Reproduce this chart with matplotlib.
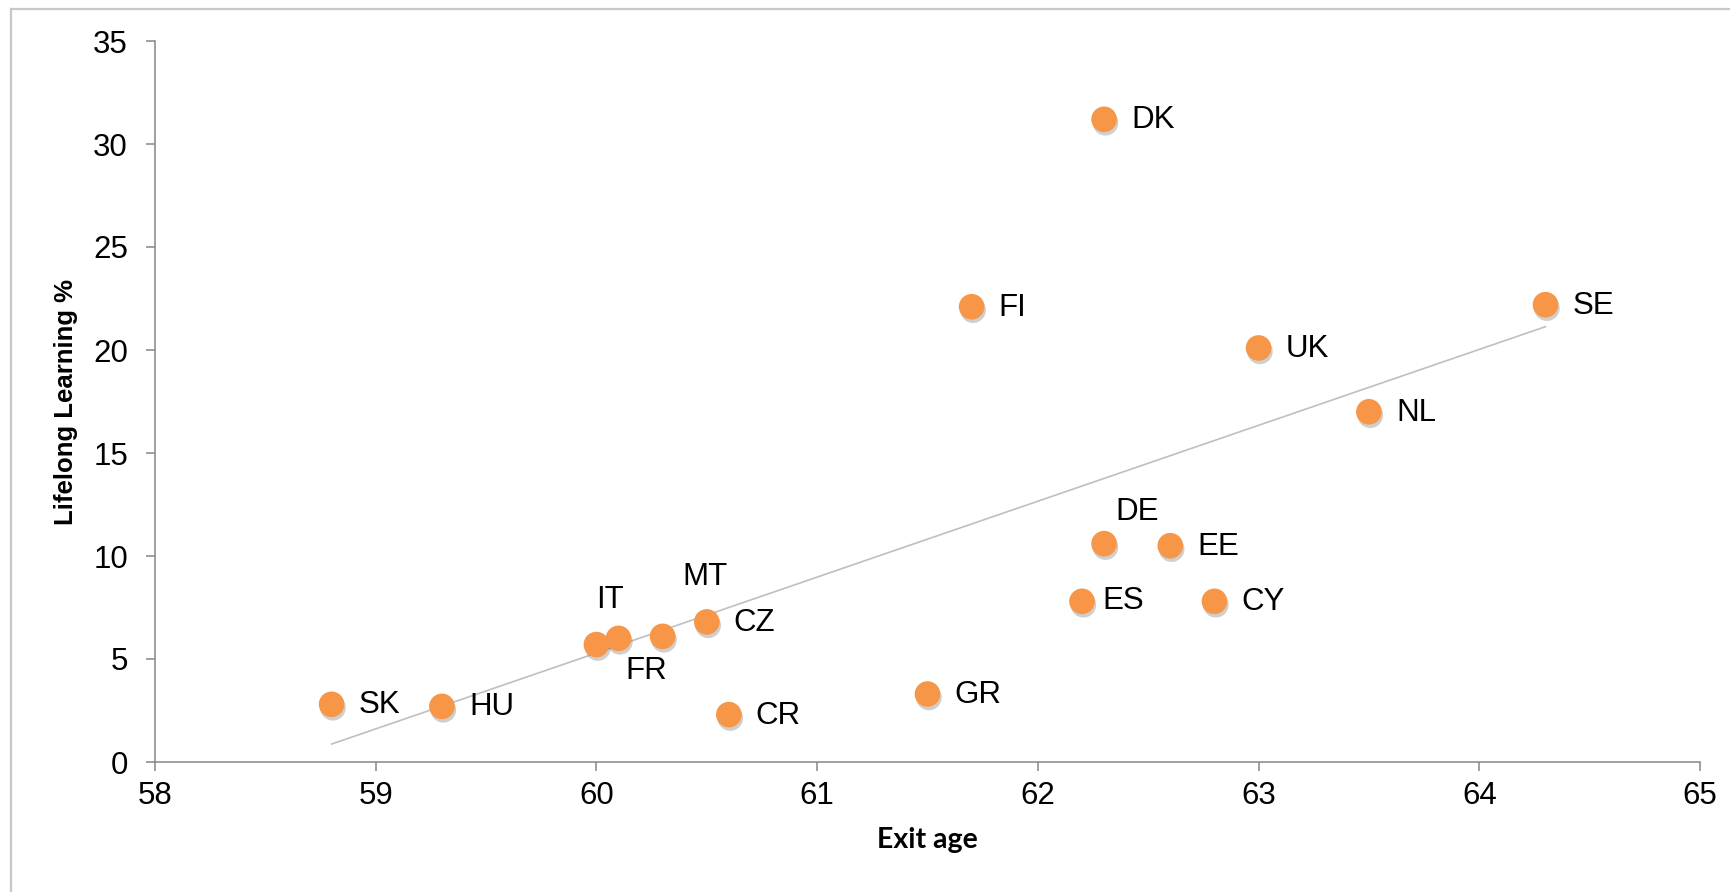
import numpy as np
import matplotlib
matplotlib.use("Agg")
import matplotlib.pyplot as plt
import matplotlib.patheffects as pe
from matplotlib.lines import Line2D

# ---- data ----
countries = ["SK", "HU", "IT", "FR", "MT", "CZ", "CR", "GR", "FI", "DK",
             "ES", "DE", "EE", "CY", "UK", "NL", "SE"]
exit_age = [58.8, 59.3, 60.0, 60.1, 60.3, 60.5, 60.6, 61.5, 61.7, 62.3,
            62.2, 62.3, 62.6, 62.8, 63.0, 63.5, 64.3]
lifelong = [2.8, 2.7, 5.7, 6.0, 6.1, 6.8, 2.3, 3.3, 22.1, 31.2,
            7.8, 10.6, 10.5, 7.8, 20.1, 17.0, 22.2]
x_ticks = [58, 59, 60, 61, 62, 63, 64, 65]
y_ticks = [0, 5, 10, 15, 20, 25, 30, 35]

# ---- label placement (pixel offsets of text anchor from point) ----
DPI = 100
label_style = {  # (dx px, dy px (up positive), ha, va)
    "IT": (14, 45, "center", "center"),
    "FR": (28, -33, "center", "center"),
    "MT": (42, 59, "center", "center"),
    "DE": (33, 32, "center", "center"),
    "ES": (20, 0, "left", "center"),
}
default_style = (27, -1, "left", "center")

ORANGE = "#F79646"
GRAY = "#868686"

fig = plt.figure(figsize=(17.30, 8.92), dpi=DPI)
ax = fig.add_axes([155 / 1730, 1 - 762 / 892, (1700 - 155) / 1730, (762 - 41) / 892])

# trendline (linear fit)
coef = np.polyfit(exit_age, lifelong, 1)
xs = np.array([min(exit_age), max(exit_age)])
ax.plot(xs, np.polyval(coef, xs), color="#BFBFBF", lw=1.2, zorder=2)

ax.scatter(exit_age, lifelong, s=340, color=ORANGE, edgecolors="none", zorder=3,
           path_effects=[pe.SimplePatchShadow(offset=(1.0, -2.5), shadow_rgbFace="#555555", alpha=0.28),
                         pe.Normal()])

lab_font = dict(family=["Liberation Sans", "DejaVu Sans"], fontsize=22.5, color="black")
for c, x, y in zip(countries, exit_age, lifelong):
    dx, dy, ha, va = label_style.get(c, default_style)
    ax.annotate(c, (x, y), xytext=(dx * 72 / DPI, dy * 72 / DPI), textcoords="offset points",
                ha=ha, va=va, zorder=4, **lab_font)

ax.set_xlim(58, 65)
ax.set_ylim(0, 35)
ax.set_xticks(x_ticks)
ax.set_yticks(y_ticks)
ax.set_xticklabels([str(t) for t in x_ticks], **lab_font)
ax.set_yticklabels([str(t) for t in y_ticks], **lab_font)

for s in ["top", "right"]:
    ax.spines[s].set_visible(False)
for s in ["left", "bottom"]:
    ax.spines[s].set_color(GRAY)
    ax.spines[s].set_linewidth(1.1)
ax.tick_params(axis="both", direction="out", length=6.5, width=1.1, color=GRAY)
ax.tick_params(axis="x", pad=7)
ax.tick_params(axis="y", pad=13)

ax.set_xlabel("Exit age", labelpad=12, family=["Lato", "DejaVu Sans"], fontweight="bold",
              fontsize=20.5, color="black")
ax.set_ylabel("Lifelong Learning %", labelpad=11, family=["Liberation Sans", "DejaVu Sans"],
              fontweight="bold", fontsize=18.5, color="black")

# outer chart border (top and left visible)
fig.add_artist(Line2D([11 / 1730, 1], [1 - 9 / 892, 1 - 9 / 892], transform=fig.transFigure,
                      color="#C8C8C8", lw=1.6))
fig.add_artist(Line2D([11 / 1730, 11 / 1730], [0, 1 - 9 / 892], transform=fig.transFigure,
                      color="#C8C8C8", lw=1.6))

fig.savefig("out.png", dpi=DPI, facecolor="white")
